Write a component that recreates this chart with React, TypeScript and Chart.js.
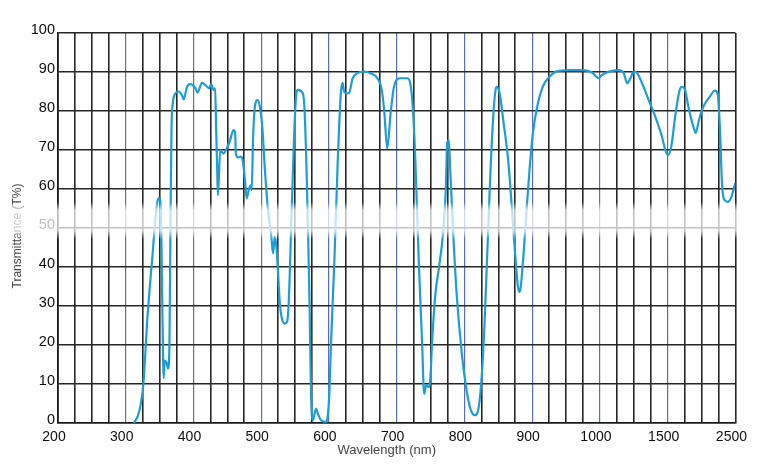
import React, { useEffect, useRef } from "react";
import { Chart, registerables } from "chart.js";

Chart.register(...registerables);

// Wavelength (nm) and transmittance (%)
const WAVELENGTH_NM = [
  312, 320, 326, 332, 339, 346, 349, 351.5, 354, 356, 357.5, 360, 362.5, 364.5, 366, 367.5, 369.5, 371,
  378, 383, 385.5, 390.5, 395.5, 403, 406, 412.5, 418, 423, 426, 429.5, 432, 433.5, 435, 436,
  439.5, 444, 449, 454, 459, 461.5, 462.5, 466, 469.5, 472.5, 476, 478.5, 482, 485, 486,
  488, 491.5, 494.5, 498, 501.5, 505.5, 510, 515, 517.5, 520, 522.5, 527.5, 530, 534.5, 538, 540.5,
  544.5, 548.5, 551.5, 554, 561.5, 564, 566.5, 569, 571.5, 573.5, 576, 581, 583.5, 588.5, 595.5, 598,
  600.5, 603, 608, 613, 617.5, 620, 622.5, 627.5, 630, 635, 642, 652, 661.5, 671.5, 677.5, 681.5,
  686, 691, 696, 705.5, 715.5, 720, 724, 727.5, 732.5, 737.5, 740.5, 743.5, 747, 749.5, 752, 757,
  762.5, 768, 772.5, 774.5, 777, 779, 783, 788.5, 796, 803.5, 809, 815.5, 821, 825.5, 829.5, 834,
  838.5, 843, 846, 847.5, 852, 857, 864.5, 869.5, 874, 879, 881.5, 886.5, 891, 896, 901, 908.5,
  915.5, 925.5, 935, 954.5, 974.5, 989, 994, 998, 1013, 1066, 1140, 1176, 1201, 1225, 1250, 1275,
  1311, 1360, 1409, 1458, 1482, 1503, 1552, 1610, 1669, 1709, 1757, 1805, 1879, 1914, 1962, 2025,
  2123, 2197, 2236, 2270, 2304, 2343, 2383, 2441, 2490, 2500,
];
const TRANSMITTANCE = [
  0, 3, 10, 27, 42, 56, 57.7, 56, 30, 11.5, 16, 15.5, 14, 20, 50, 75, 82, 83.7,
  85, 84, 83, 86.2, 86.9, 85.8, 84.7, 87.2, 86.6, 85.8, 86.9, 85.4, 85.8, 75, 65, 58.4,
  70, 69.1, 70.4, 72.5, 75.1, 74.3, 69.1, 68.1, 68.3, 67.4, 62.3, 57.6, 60.1, 61, 59.7,
  73.4, 82, 82.8, 81.1, 76, 64.8, 54.6, 47.7, 43.5, 47.7, 45, 30.6, 27.2, 25.5, 25.9, 30.6,
  52, 73.4, 84, 85.4, 84.5, 80.2, 67.4, 50.3, 28.9, 7.5, 0.7, 3.7, 2.4, 0.7, 0.3, 1.5,
  7.5, 20.4, 41.7, 67.4, 84.5, 87.2, 84.9, 84.5, 84.7, 88.4, 89.7, 90.1, 89.7, 88.4, 85.8, 80.2,
  70.4, 79.4, 86.2, 88.4, 88.4, 87.1, 80.2, 67.4, 41.7, 20.4, 7.5, 9.7, 9.2, 11, 20, 33,
  40, 48, 60, 72, 72.5, 65, 50, 33, 18, 8, 3.5, 2, 4, 12, 25, 45,
  65, 80, 85.5, 86.2, 84.5, 78, 67.4, 56.3, 45.2, 34.9, 33.6, 41.7, 52.9, 64.8, 74.3, 82,
  86.2, 88.8, 90.1, 90.5, 90.5, 89.8, 88.9, 88.4, 89.2, 90.1, 90.5, 89.7, 87.1, 88.4, 90.1, 89.7,
  87.1, 82.8, 78.5, 73.4, 70, 68.7, 70.8, 78.5, 84.9, 86.2, 85.4, 81.1, 76, 74.4, 77.7, 81.1,
  83.7, 85.2, 84.5, 76, 60.6, 57.1, 56.7, 58, 61, 61.5,
];

const X_TICK_LABELS = ["200", "300", "400", "500", "600", "700", "800", "900", "1000", "1500", "2500"];
const X_TICK_NM = [200, 300, 400, 500, 600, 700, 800, 900, 1000, 1500, 2500];
const Y_MIN = 0;
const Y_MAX = 100;
const Y_STEP = 10;
const X_TITLE = "Wavelength (nm)";
const Y_TITLE = "Transmittance (T%)";

// piecewise axis: 200-1000 nm → 25 nm per cell, 1000-1500 → 125 nm, 1500-2500 → 250 nm
function toAxis(nm: number): number {
  if (nm <= 1000) return (nm - 200) / 25;
  if (nm <= 1500) return 32 + (nm - 1000) / 125;
  return 36 + (nm - 1500) / 250;
}

const AXIS_MAX = toAxis(2500);
const MAJOR_POS = X_TICK_NM.map(toAxis);

const overlayPlugin = {
  id: "overlay",
  afterDraw(chart: any) {
    const { ctx, chartArea } = chart;
    ctx.save();
    ctx.fillStyle = "#444";
    ctx.font = '13px "Liberation Sans", Arial, sans-serif';
    ctx.textAlign = "center";
    ctx.textBaseline = "middle";
    ctx.fillText(X_TITLE, (chartArea.left + chartArea.right) / 2 - 10, 450);
    ctx.translate(18, (chartArea.top + chartArea.bottom) / 2 + 8);
    ctx.rotate(-Math.PI / 2);
    ctx.font = '12px "Liberation Sans", Arial, sans-serif';
    ctx.fillText(Y_TITLE, 0, 0);
    ctx.restore();

    // hazy white band across the picture
    ctx.save();
    const g = ctx.createLinearGradient(0, 202, 0, 239);
    g.addColorStop(0, "rgba(255,255,255,0)");
    g.addColorStop(0.22, "rgba(255,255,255,0.72)");
    g.addColorStop(0.78, "rgba(255,255,255,0.72)");
    g.addColorStop(1, "rgba(255,255,255,0)");
    ctx.fillStyle = g;
    ctx.fillRect(0, 202, chart.width, 37);
    ctx.restore();
  },
};

export default function App() {
  const ref = useRef<HTMLCanvasElement>(null);

  useEffect(() => {
    if (!ref.current) return;
    const data = WAVELENGTH_NM.map((nm, i) => ({ x: toAxis(nm), y: TRANSMITTANCE[i] }));
    const chart = new Chart(ref.current, {
      type: "line",
      data: {
        datasets: [
          {
            data,
            borderColor: "#1d9dd4",
            borderWidth: 2.2,
            pointRadius: 0,
            cubicInterpolationMode: "monotone",
            fill: false,
          },
        ],
      },
      options: {
        responsive: false,
        animation: false,
        devicePixelRatio: 1,
        layout: { padding: { left: 0, top: 33, right: 16, bottom: 0 } },
        plugins: { legend: { display: false }, tooltip: { enabled: false } },
        scales: {
          x: {
            type: "linear",
            min: 0,
            max: AXIS_MAX,
            afterFit: (s: any) => {
              s.height = 42;
            },
            afterBuildTicks: (s: any) => {
              const t = [];
              for (let i = 0; i <= AXIS_MAX; i++) t.push({ value: i });
              s.ticks = t;
            },
            ticks: {
              autoSkip: false,
              maxRotation: 0,
              padding: 6,
              labelOffset: -4,
              color: "#0d0d0d",
              font: { family: '"Liberation Sans", Arial, sans-serif', size: 14 },
              callback: (v: any) => {
                const idx = MAJOR_POS.indexOf(Number(v));
                return idx >= 0 ? X_TICK_LABELS[idx] : "";
              },
            },
            grid: {
              drawTicks: false,
              color: (c: any) => {
                const v = c.tick ? c.tick.value : 0;
                return v % 4 === 0 && v !== 0 && v !== AXIS_MAX ? "#5a6cb4" : "#262626";
              },
              lineWidth: (c: any) => {
                const v = c.tick ? c.tick.value : 0;
                return v % 4 === 0 && v !== 0 && v !== AXIS_MAX ? 1.2 : 1.6;
              },
            },
            border: { color: "#1a1a1a", width: 1.6 },
          },
          y: {
            min: Y_MIN,
            max: Y_MAX,
            afterFit: (s: any) => {
              s.width = 58;
            },
            ticks: {
              stepSize: Y_STEP,
              padding: 3,
              labelOffset: -3,
              color: "#0d0d0d",
              font: { family: '"Liberation Sans", Arial, sans-serif', size: 14.5 },
            },
            grid: { drawTicks: false, color: "#262626", lineWidth: 1.6 },
            border: { color: "#1a1a1a", width: 1.6 },
          },
        },
      },
      plugins: [overlayPlugin],
    });
    return () => chart.destroy();
  }, []);

  return (
    <div style={{ position: "fixed", left: 0, top: 0, width: 757, height: 465, background: "#fff" }}>
      <canvas ref={ref} width={757} height={465} style={{ display: "block" }} />
    </div>
  );
}
